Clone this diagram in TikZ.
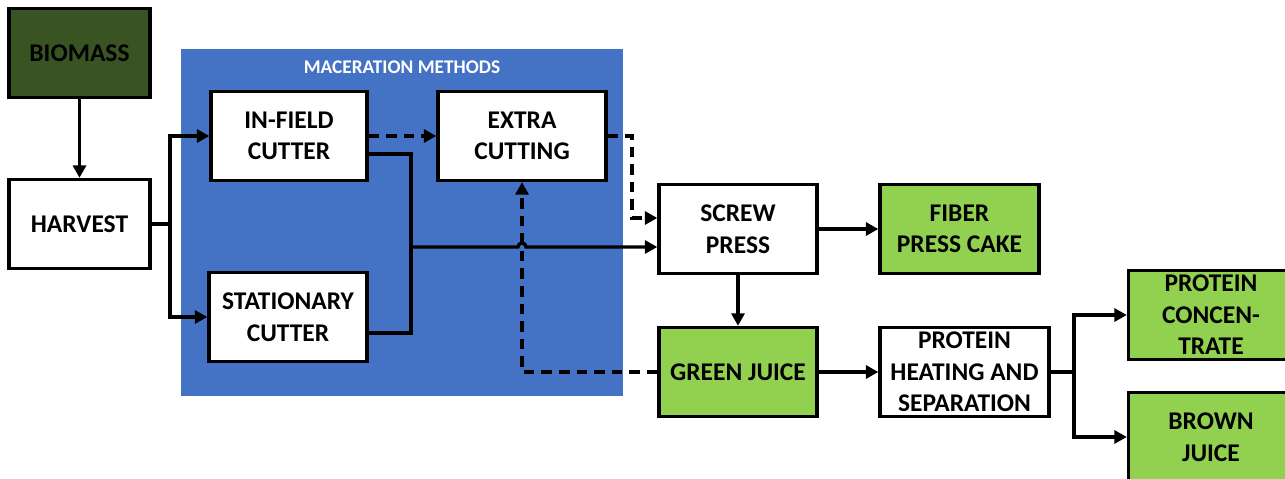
\documentclass[tikz,border=0pt]{standalone}
\usepackage{fontspec}
\setmainfont{Carlito}
\usetikzlibrary{arrows.meta}
\definecolor{darkgreen}{HTML}{3A5322}
\definecolor{lightgreen}{HTML}{92D050}
\definecolor{macblue}{HTML}{4472C4}
\begin{document}
\begin{tikzpicture}[x=0.02cm, y=-0.02cm,
    box/.style = {draw, line width=1.9pt, minimum height=1.78cm, inner sep=0pt,
                  align=center, font=\bfseries\fontsize{14.5}{18}\selectfont},
    product/.style = {box, fill=lightgreen},
    line/.style = {line width=1.9pt},
    arrow/.style = {line, -{Triangle[length=2.5mm, width=2.6mm]}},
    dasharrow/.style = {arrow, dash pattern=on 6pt off 4pt}]
                        \useasboundingbox (0,0) rectangle (1285,479);
                        % maceration area
                        \fill[macblue] (181,49) rectangle (623,396);
                        \node (title) [text=white, font=\bfseries\fontsize{11}{13}\selectfont] at (402,67) {MACERATION METHODS};
                        % boxes
                        \node (biomass) [box, fill=darkgreen, minimum width=2.82cm] at (79.5,53) {BIOMASS};
                        \node (harvest) [box, fill=white, minimum width=2.82cm] at (79.5,224) {HARVEST};
                        \node (infield) [box, fill=white, minimum width=3.12cm] at (289,136) {IN-FIELD\\CUTTER};
                        \node (stationary) [box, fill=white, minimum width=3.16cm] at (288,317) {STATIONARY\\CUTTER};
                        \node (extra) [box, fill=white, minimum width=3.36cm] at (522,136) {EXTRA\\CUTTING};
                        \node (screw) [box, fill=white, minimum width=3.16cm] at (738,229) {SCREW\\PRESS};
                        \node (fiber) [product, minimum width=3.18cm] at (959.5,229) {FIBER\\PRESS CAKE};
                        \node (green) [product, minimum width=3.16cm] at (738,372) {GREEN JUICE};
                        \node (heating) [box, fill=white, minimum width=3.38cm] at (964.5,372) {PROTEIN\\HEATING AND\\SEPARATION};
                        \node (conc) [product, minimum width=3.3cm] at (1211,315) {PROTEIN\\CONCEN-\\TRATE};
                        \node (brown) [product, minimum width=3.3cm] at (1211,437) {BROWN\\JUICE};
                        % connectors
                        \coordinate (split) at (170,224);
                        \coordinate (join) at (411,247);
                        \coordinate (turn) at (632,136);
                        \coordinate (fork) at (1074,372);
                        \draw[arrow] (biomass) -- (harvest);
                        \draw[line] (harvest.east) -- (split);
                        \draw[arrow] (split) |- (infield.west);
                        \draw[arrow] (split) |- (stationary.west);
                        \draw[dasharrow] (infield.east) -- (extra.west);
                        \draw[line] ([yshift=-0.36cm]infield.east) -| (join);
                        \draw[line] ([yshift=-0.32cm]stationary.east) -| (join);
                        \draw[arrow] (join) -- (518,247) arc[start angle=180, end angle=0, radius=0.08cm] -- ([yshift=-0.36cm]screw.west);
                        \draw[dasharrow] (extra.east) -- (turn) |- ([yshift=0.22cm]screw.west);
                        \draw[dasharrow] (green.west) -| (extra.south);
                        \draw[arrow] (screw) -- (green);
                        \draw[arrow] (screw) -- (fiber);
                        \draw[arrow] (green) -- (heating);
                        \draw[line] (heating.east) -- (fork);
                        \draw[arrow] (fork) |- (conc.west);
                        \draw[arrow] (fork) |- (brown.west);
\end{tikzpicture}
\end{document}
